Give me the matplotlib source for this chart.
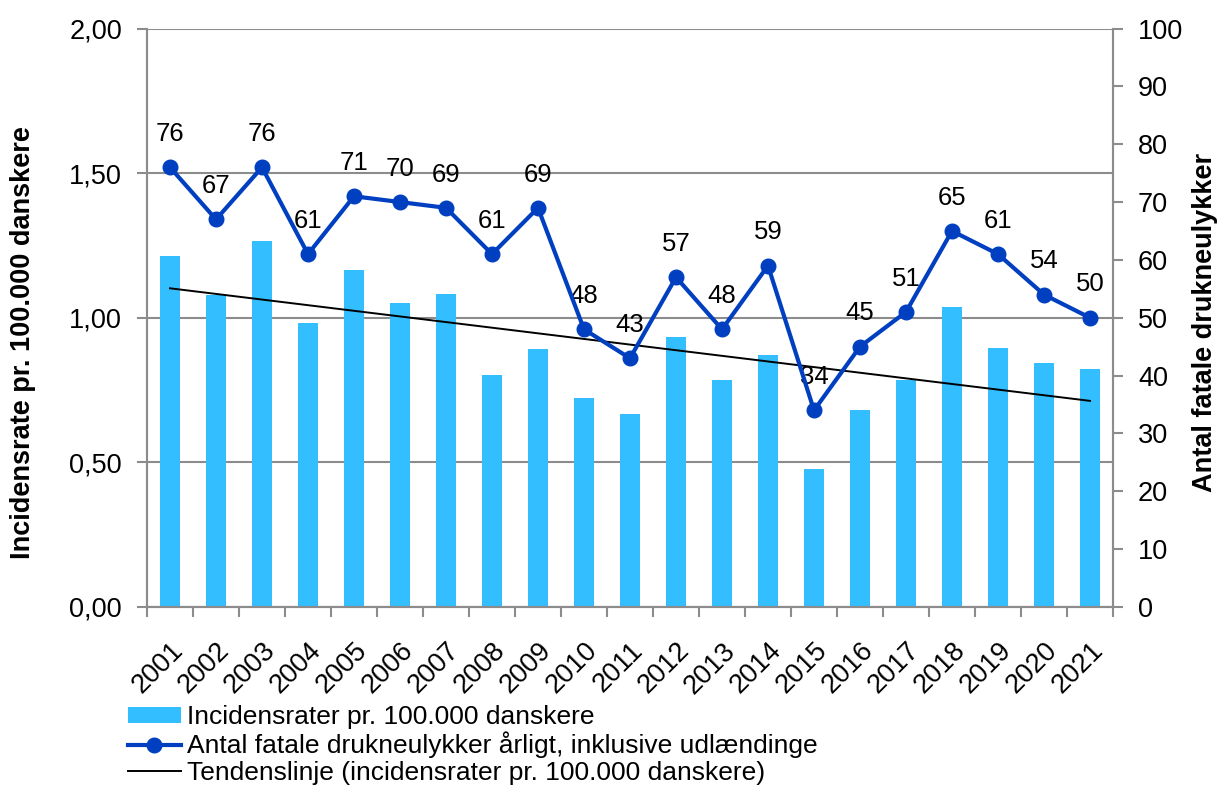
import numpy as np
import matplotlib
matplotlib.use('Agg')
import matplotlib.pyplot as plt
import matplotlib.transforms as mtransforms

plt.rcParams['font.family'] = ['Liberation Sans', 'DejaVu Sans']

years = [str(y) for y in range(2001, 2022)]
# incidensrater pr. 100.000 danskere
rates = [1.215, 1.080, 1.264, 0.982, 1.166, 1.050, 1.083, 0.803, 0.891, 0.724,
         0.666, 0.932, 0.786, 0.870, 0.476, 0.682, 0.784, 1.038, 0.895, 0.843, 0.822]
# antal fatale drukneulykker inkl. udlaendinge
deaths = [76, 67, 76, 61, 71, 70, 69, 61, 69, 48, 43, 57, 48, 59, 34, 45, 51, 65, 61, 54, 50]

bar_color = '#33BFFF'
line_color = '#0040C0'
grid_color = '#8C8C8C'
fs = 19.5

W, H = 1219, 785
fig = plt.figure(figsize=(W / 100, H / 100), dpi=100)
ax = fig.add_axes([147 / W, 1 - 607 / H, (1113 - 147) / W, (607 - 28.5) / H])
ax2 = ax.twinx()

x = np.arange(len(years))
bars = ax.bar(x, rates, width=0.44, color=bar_color, zorder=2)

# lineaer tendenslinje for incidensraterne
k, m = np.polyfit(x, rates, 1)
trend, = ax.plot(x, k * x + m, color='black', lw=1.4, zorder=3)

line, = ax2.plot(x, deaths, color=line_color, lw=3.0, marker='o', markersize=10.5,
                 zorder=4)
for xi, d in zip(x, deaths):
    ax2.annotate(str(d), (xi, d), xytext=(0, 24), textcoords='offset points',
                 ha='center', va='center', fontsize=18.5)

ax.set_xlim(-0.5, len(years) - 0.5)
ax.set_ylim(0, 2)
ax2.set_ylim(0, 100)

yt = [0, 0.5, 1.0, 1.5, 2.0]
ax.set_yticks(yt)
ax.set_yticklabels([f'{v:.2f}'.replace('.', ',') for v in yt])
ax2.set_yticks(range(0, 101, 10))

# ticks between the categories, year labels centred under the bars
ax.set_xticks(np.arange(-0.5, len(years)))
ax.set_xticklabels([])
ax.set_xticks(x, minor=True)
ax.set_xticklabels(years, minor=True, rotation=45, ha='right',
                   rotation_mode='anchor')
shift = mtransforms.ScaledTranslation(-2 / 100, 0, fig.dpi_scale_trans)
for lbl in ax.get_xticklabels(minor=True):
    lbl.set_transform(lbl.get_transform() + shift)

ax.tick_params(axis='x', which='major', length=7, width=1.5, color=grid_color)
ax.tick_params(axis='x', which='minor', length=0, labelsize=fs, pad=22)
ax.tick_params(axis='y', length=7, width=1.5, color=grid_color, labelsize=fs, pad=11)
ax2.tick_params(axis='y', length=7, width=1.5, color=grid_color, labelsize=fs, pad=11)

ax.yaxis.grid(True, color=grid_color, lw=1.5)
ax.set_axisbelow(True)

for a in (ax, ax2):
    a.spines['top'].set_visible(False)
    for s in ('left', 'right', 'bottom'):
        a.spines[s].set_color(grid_color)
        a.spines[s].set_linewidth(1.5)

fig.text(23 / W, 1 - 343 / H, 'Incidensrate pr. 100.000 danskere', rotation=90,
         ha='center', va='center', fontsize=fs, fontweight='bold')
fig.text(1205 / W, 1 - 322 / H, 'Antal fatale drukneulykker', rotation=90,
         ha='center', va='center', fontsize=fs, fontweight='bold')

fig.legend([bars, line, trend],
           ['Incidensrater pr. 100.000 danskere',
            'Antal fatale drukneulykker årligt, inklusive udlændinge',
            'Tendenslinje (incidensrater pr. 100.000 danskere)'],
           loc='upper left', bbox_to_anchor=(128 / W, 1 - 705 / H), frameon=False,
           fontsize=19, handlelength=2.0, handleheight=0.57, handletextpad=0.23,
           labelspacing=0.1, borderpad=0, borderaxespad=0)

fig.savefig('out.png', dpi=100)
